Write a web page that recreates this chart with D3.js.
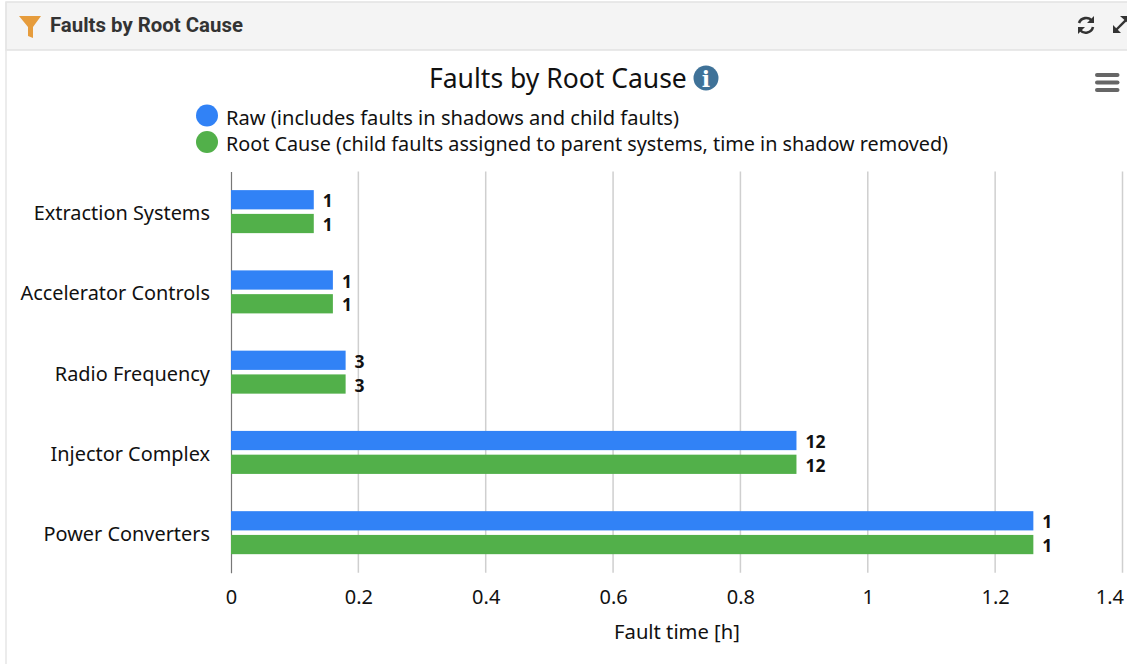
<!DOCTYPE html>
<html>
<head>
<meta charset="utf-8">
<script src="https://cdn.jsdelivr.net/npm/d3@7"></script>
<style>
  html, body { margin: 0; padding: 0; background: #fff; overflow: hidden; }
  svg { display: block; }
  text { font-family: "Noto Sans", sans-serif; fill: #111; }
</style>
</head>
<body>
<svg id="chart" width="1127" height="664"></svg>
<script>
const categories = ["Extraction Systems", "Accelerator Controls", "Radio Frequency", "Injector Complex", "Power Converters"];
const rawHours = [0.13, 0.16, 0.18, 0.888, 1.26];
const rootHours = [0.13, 0.16, 0.18, 0.888, 1.26];
const rawCounts = [1, 1, 3, 12, 1];
const rootCounts = [1, 1, 3, 12, 1];
const xTicks = [0, 0.2, 0.4, 0.6, 0.8, 1, 1.2, 1.4];
const seriesNames = [
  "Raw (includes faults in shadows and child faults)",
  "Root Cause (child faults assigned to parent systems, time in shadow removed)"
];
const seriesColors = ["#3182f6", "#52b04a"];

const svg = d3.select("#chart");
const margin = { top: 171.5, right: 4.5, bottom: 91.2, left: 231 };
const width = 1127 - margin.left - margin.right;
const height = 664 - margin.top - margin.bottom;

// panel frame and header
svg.append("rect").attr("x", 6).attr("y", 2).attr("width", 1125).attr("height", 48)
  .attr("fill", "#f4f4f4").attr("stroke", "#e2e2e2").attr("stroke-width", 1.5);
svg.append("line").attr("x1", 6).attr("x2", 6).attr("y1", 2).attr("y2", 664)
  .attr("stroke", "#e6e6e6").attr("stroke-width", 1.5);
svg.append("path").attr("d", "M19 16H41L33 27V38L28 36V27Z").attr("fill", "#e69c3c");
svg.append("text").attr("x", 50).attr("y", 32).text("Faults by Root Cause")
  .style("font-family", "Roboto").style("font-weight", 700).style("font-size", "20.4px").style("fill", "#333");

// refresh icon
const refresh = svg.append("g").attr("fill", "none").attr("stroke", "#333").attr("stroke-width", 2.6);
refresh.append("path").attr("d", "M1079 23A7.5 7.5 0 0 1 1092 21");
refresh.append("path").attr("d", "M1093 27A7.5 7.5 0 0 1 1080 30");
svg.append("path").attr("d", "M1094 16V23H1087Z").attr("fill", "#333");
svg.append("path").attr("d", "M1078 34V27H1085Z").attr("fill", "#333");
// expand icon
svg.append("path").attr("d", "M1116 30L1128 18").attr("stroke", "#333").attr("stroke-width", 2.4);
svg.append("path").attr("d", "M1113 33V25L1121 33Z").attr("fill", "#333");
svg.append("path").attr("d", "M1120 16H1129V24Z").attr("fill", "#333");

// title + info icon
svg.append("text").attr("x", 429).attr("y", 88).text("Faults by Root Cause").style("font-size", "26.5px");
svg.append("circle").attr("cx", 706).attr("cy", 78).attr("r", 12.5).attr("fill", "#3f7298");
svg.append("text").attr("x", 706).attr("y", 87).attr("text-anchor", "middle").text("i")
  .style("font-family", "DejaVu Serif").style("font-weight", 700).style("font-size", "22px").style("fill", "#fff");

// hamburger
svg.append("g").selectAll("rect").data(["top", "mid", "bot"]).join("rect")
  .attr("x", 1095).attr("y", (d, i) => 73 + i * 7.5).attr("width", 24.5).attr("height", 4).attr("rx", 2)
  .attr("fill", "#666");

// legend
const legend = svg.append("g").selectAll("g").data(seriesNames).join("g")
  .attr("transform", (d, i) => `translate(207,${115.5 + i * 26.5})`);
legend.append("circle").attr("r", 11).attr("fill", (d, i) => seriesColors[i]);
legend.append("text").attr("x", 19).attr("y", (d, i) => i === 0 ? 9 : 8.5).text(d => d)
  .style("font-size", (d, i) => i === 0 ? "20.1px" : "19.8px");

const g = svg.append("g").attr("transform", `translate(${margin.left},${margin.top})`);

const x = d3.scaleLinear().domain([0, 1.4]).range([0, width]);
const y = d3.scaleBand().domain(categories).range([0, height]);
const groupHeight = 43;
const inner = d3.scaleBand().domain([0, 1]).range([0, groupHeight]).paddingInner(0.19);

// gridlines
g.append("g").selectAll("line").data(xTicks.slice(1)).join("line")
  .attr("x1", d => x(d)).attr("x2", d => x(d)).attr("y1", 0).attr("y2", height)
  .attr("stroke", "#cfcfcf").attr("stroke-width", 1.5);

const xAxis = g.append("g").attr("transform", `translate(0,${height})`)
  .call(d3.axisBottom(x).tickValues(xTicks).tickFormat(d => d).tickSize(0).tickPadding(17.5));
xAxis.select(".domain").remove();
xAxis.selectAll("text").style("font-size", "20px").style("font-family", "Noto Sans")
  .attr("text-anchor", d => d === 1.4 ? "end" : "middle")
  .attr("dx", d => d === 1.4 ? 1 : 0);

const yAxis = g.append("g")
  .call(d3.axisLeft(y).tickSize(0).tickPadding(21));
yAxis.select(".domain").attr("stroke", "#777").attr("stroke-width", 1.2);
yAxis.selectAll("text").style("font-size", "19.9px").style("font-family", "Noto Sans").attr("dy", "0.42em");

g.append("text").attr("x", 446).attr("y", 467.5).attr("text-anchor", "middle")
  .text("Fault time [h]").style("font-size", "20.2px");

// bars and labels
[rawHours, rootHours].forEach((values, s) => {
  const counts = s === 0 ? rawCounts : rootCounts;
  const series = g.append("g");
  const top = c => y(c) + (y.bandwidth() - groupHeight) / 2 + inner(s);
  series.selectAll("rect").data(categories).join("rect")
    .attr("x", 0)
    .attr("y", top)
    .attr("width", (c, i) => x(values[i]))
    .attr("height", inner.bandwidth())
    .attr("fill", seriesColors[s]);
  series.selectAll("text").data(categories).join("text")
    .attr("x", (c, i) => x(values[i]) + 9)
    .attr("y", c => top(c) + inner.bandwidth() / 2 + 7.5)
    .text((c, i) => counts[i])
    .style("font-size", "17.5px").style("font-weight", 700);
});
</script>
</body>
</html>
